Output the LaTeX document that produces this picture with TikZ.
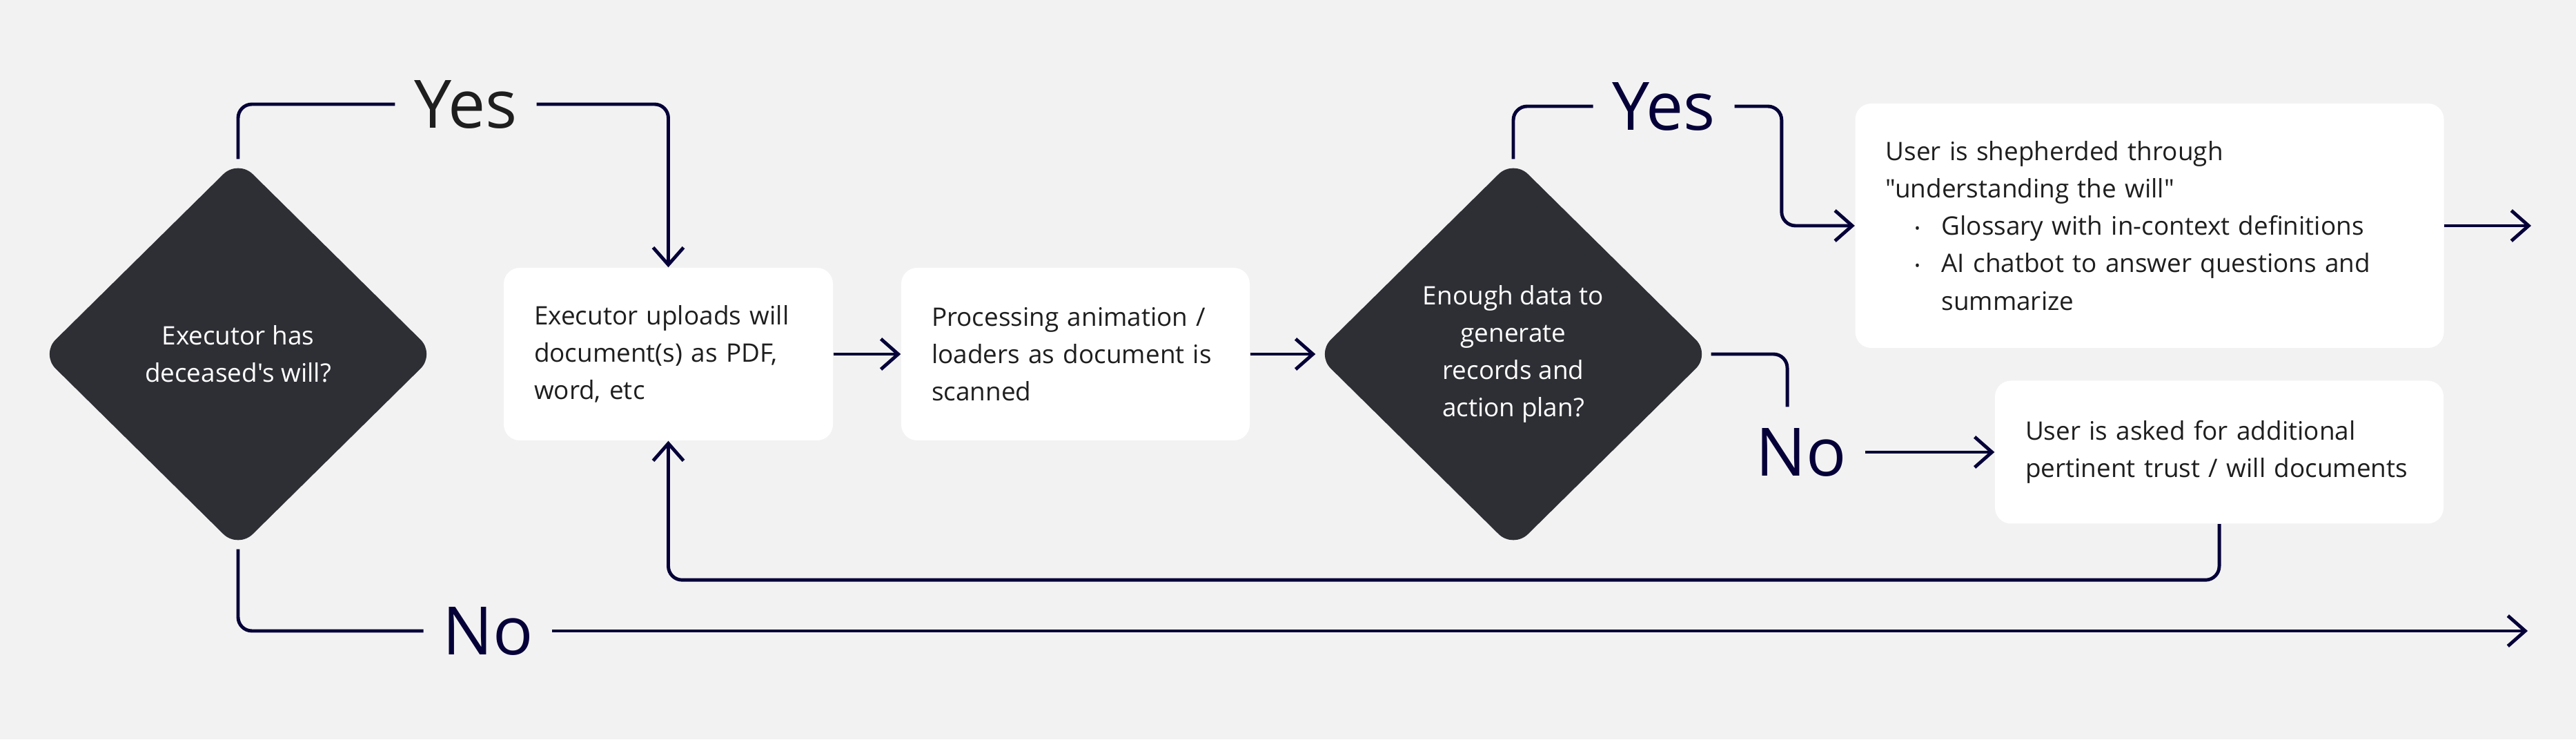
\documentclass[tikz,border=0pt]{standalone}
\usepackage{fontspec}
\setmainfont{Open Sans}[Ligatures=TeXOff]
\usepackage{tikz}
\usetikzlibrary{shapes.geometric,arrows.meta}

\definecolor{bgcol}{HTML}{F2F2F2}
\definecolor{navy}{HTML}{050038}
\definecolor{darkfill}{HTML}{2E2F35}
\definecolor{inkcol}{HTML}{1E1E1E}

\newcommand{\stepfont}{\fontsize{10.5}{15.4}\selectfont}
\newcommand{\answerfont}{\fontsize{27.5}{30}\selectfont}
\newcommand{\dotitem}{\hspace*{0.42cm}\makebox[0.39cm][l]{\raisebox{0.8pt}{\fontsize{6}{6}\selectfont\textbullet}}}

\tikzset{
	stepbox/.style={rectangle, fill=white, rounded corners=0.23cm, text=inkcol, font=\stepfont, align=left, inner xsep=0.44cm, inner ysep=0pt},
	decision/.style={diamond, fill=darkfill, rounded corners=0.3cm, text=white, font=\stepfont, align=center, inner sep=0pt, minimum width=5.72cm, minimum height=5.64cm},
	answer/.style={font=\answerfont, inner xsep=0.27cm, inner ysep=0.3cm},
	flow/.style={navy, line width=1.4pt, rounded corners=0.2cm},
}

\begin{document}
\begin{tikzpicture}[>={Straight Barb[length=0.25cm,width=0.44cm]}]
	\fill[bgcol] (0,0) rectangle (37.33,10.71);
	\useasboundingbox (0,0) rectangle (37.33,10.71);
	% decisions
	\node[decision] (hasWill) at (3.45,5.58) {Executor has\\deceased's will?};
	\node[decision] (enough) at (21.93,5.58) {Enough data to\\generate\\records and\\action plan?};
	% steps
	\node[stepbox, text width=3.89cm, minimum height=2.5cm] (upload) at (9.685,5.58) {Executor uploads will\\document(s) as PDF,\\word, etc};
	\node[stepbox, text width=4.17cm, minimum height=2.5cm] (scan) at (15.585,5.58) {Processing animation /\\loaders as document is\\scanned};
	\node[stepbox, text width=7.65cm, minimum height=3.54cm] (shepherd) at (31.15,7.44) {User is shepherded through\\"understanding the will"\\\dotitem Glossary with in-context definitions\\\dotitem AI chatbot to answer questions and\\\hspace*{0.81cm}summarize};
	\node[stepbox, text width=5.62cm, minimum height=2.07cm] (askMore) at (32.16,4.16) {User is asked for additional\\pertinent trust / will documents};
	% answers
	\node[answer, text=inkcol] (yesWill) at (6.75,9.2) {Yes};
	\node[answer, text=navy] (noWill) at (7.07,1.57) {No};
	\node[answer, text=navy] (yesData) at (24.11,9.17) {Yes};
	\node[answer, text=navy] (noData) at (26.10,4.16) {No};
	\coordinate (outNo) at (36.63,1.57);
	\coordinate (outYes) at (36.68,7.44);
	% connectors
	\draw[flow] (hasWill.north) |- (yesWill.west);
	\draw[flow,->] (yesWill.east) -| (upload.north);
	\draw[flow] (hasWill.south) |- (noWill.west);
	\draw[flow,->] (noWill.east) -- (outNo);
	\draw[flow,->] (upload) -- (scan);
	\draw[flow,->] (scan) -- (enough);
	\draw[flow] (enough.north) |- (yesData.west);
	\draw[flow,->] (yesData.east) -| ([xshift=-1.06cm]shepherd.west) -- (shepherd.west);
	\draw[flow,->] (shepherd.east) -- (outYes);
	\draw[flow] (enough.east) -| ([xshift=-0.2cm]noData.north);
	\draw[flow,->] (noData.east) -- (noData.east -| askMore.west);
	\draw[flow,->] (askMore.south) -- ++(0,-0.81) -| (upload.south);
\end{tikzpicture}
\end{document}
